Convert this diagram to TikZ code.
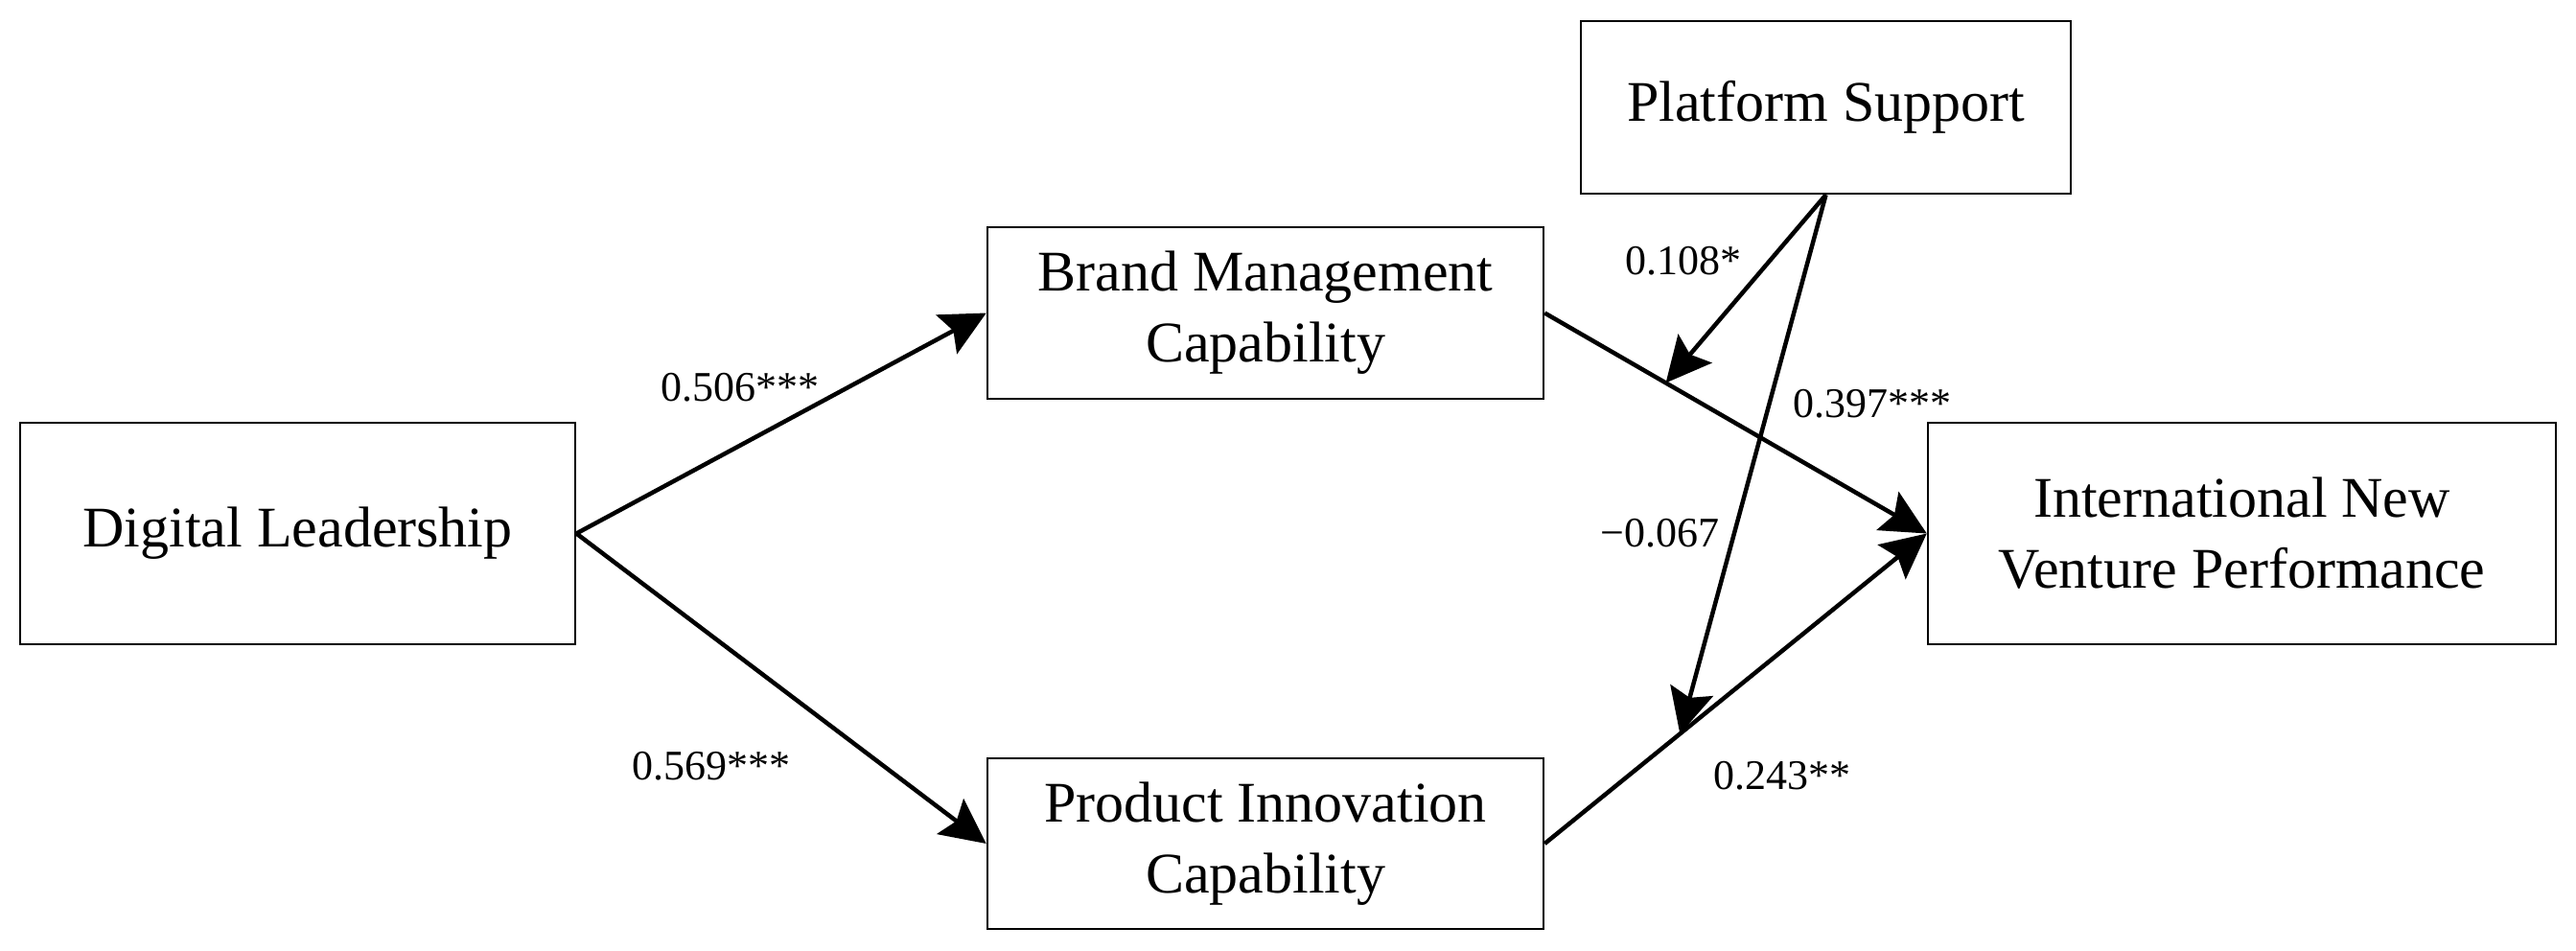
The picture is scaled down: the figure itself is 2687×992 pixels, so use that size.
\documentclass[tikz,border=0pt]{standalone}
\usepackage{fontspec}
\setmainfont{Liberation Serif}
\usetikzlibrary{arrows.meta,calc}
\begin{document}
\begin{tikzpicture}[x=1pt,y=-1pt,
  box/.style={draw=black,line width=2.5pt,inner sep=0pt,align=center,
    font=\fontsize{60}{74}\selectfont},
  conn/.style={line width=4.5pt,-{Stealth[length=47pt,width=46pt,inset=8pt]}},
  lbl/.style={anchor=base west,inner sep=0pt,font=\fontsize{44}{50}\selectfont}]
\useasboundingbox (0,0) rectangle (2687,992);
\node[box,minimum width=579pt,minimum height=231pt] (dl) at (310.5,556.5) {Digital Leadership};
\node[box,minimum width=580pt,minimum height=179pt] (bm) at (1320,326.5) {Brand Management\\Capability};
\node[box,minimum width=580pt,minimum height=178pt] (pi) at (1320,880) {Product Innovation\\Capability};
\node[box,minimum width=511pt,minimum height=180pt] (ps) at (1904.5,112) {Platform Support};
\node[box,minimum width=655pt,minimum height=231pt] (inv) at (2338.5,556.5) {International New\\Venture Performance};
\coordinate (m1) at ($(bm.east)!0.317!(inv.west)$);
\coordinate (m2) at ($(pi.east)!0.354!(inv.west)$);
\draw[conn] (dl.east) -- (bm.west);
\draw[conn] (dl.east) -- (pi.west);
\draw[conn] (bm.east) -- (inv.west);
\draw[conn] (pi.east) -- (inv.west);
\draw[conn] (ps.south) -- (m1);
\draw[conn] (ps.south) -- (m2);
\node[lbl] (l1) at (689,418) {0.506***};
\node[lbl] (l2) at (659,813) {0.569***};
\node[lbl] (l3) at (1695,287) {0.108*};
\node[lbl] (l4) at (1870,435) {0.397***};
\node[lbl] (l5) at (1669,570) {−0.067};
\node[lbl] (l6) at (1787,823) {0.243**};
\end{tikzpicture}
\end{document}
